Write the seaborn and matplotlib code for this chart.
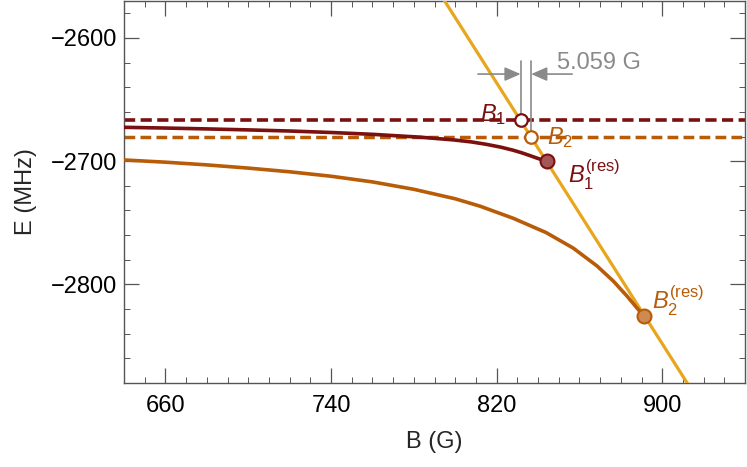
import numpy as np
import matplotlib
matplotlib.use('Agg')
import matplotlib.pyplot as plt
import seaborn as sns
from matplotlib.ticker import MultipleLocator

# Dữ liệu
B_red = [640, 660, 680, 700, 720, 740, 760, 783, 799, 808, 815, 822, 828, 832, 836, 840, 844.3]
E_red = [-2672.5, -2673.1, -2673.8, -2674.6, -2675.5, -2676.7, -2678.2, -2680.5,
         -2682.7, -2684.4, -2686.3, -2688.6, -2691.1, -2693.1, -2695.4, -2697.8, -2700.0]

B_orange = [640, 660, 680, 700, 720, 740, 760, 780, 800, 812, 828, 844, 857, 868.5,
            876.5, 883, 887, 891]
E_orange = [-2699.0, -2700.8, -2703.0, -2705.6, -2708.6, -2712.2, -2716.8, -2722.8,
            -2730.5, -2736.5, -2746.3, -2758.0, -2770.5, -2785.0, -2797.5, -2809.5,
            -2817.5, -2825.5]

B_line = [790, 920]
E_line = [-2557.0, -2901.0]

E_level1 = -2666.3
E_level2 = -2680.0

B_open = [831.6, 836.7]
E_open = [-2666.3, -2680.0]
B_res = [844.3, 891.0]
E_res = [-2700.0, -2825.5]

gap_text = '5.059 G'
E_arrow = -2629.3
E_top = -2619.0

x_ticks = [660, 740, 820, 900]

dark_red = '#7a1010'
orange = '#b85c08'
yellow = '#e8a61c'
gray = '#8a8a8a'

sns.set_theme(style='ticks')
plt.rcParams['font.family'] = ['Liberation Sans', 'DejaVu Sans']
plt.rcParams['mathtext.fontset'] = 'custom'
plt.rcParams['mathtext.rm'] = 'Liberation Sans'
plt.rcParams['mathtext.it'] = 'Liberation Sans:italic'

fig = plt.figure(figsize=(7.47, 4.67), dpi=100)
ax = fig.add_axes([124 / 747, 84 / 467, 621 / 747, 382 / 467])

# Đường ngang nét đứt
ax.axhline(E_level1, color=dark_red, lw=2.6, dashes=(3.1, 1.5), zorder=2)
ax.axhline(E_level2, color=orange, lw=2.5, dashes=(3.1, 1.5), zorder=2)

# Đường thẳng và các đường cong
sns.lineplot(x=B_line, y=E_line, ax=ax, color=yellow, lw=2.3, zorder=3, sort=False)
sns.lineplot(x=B_red, y=E_red, ax=ax, color=dark_red, lw=2.6, zorder=4, sort=False)
sns.lineplot(x=B_orange, y=E_orange, ax=ax, color=orange, lw=2.6, zorder=4, sort=False)

# Chú thích khoảng cách
ax.plot([B_open[0], B_open[0]], [E_top, E_open[0]], color=gray, lw=1.2, zorder=5)
ax.plot([B_open[1], B_open[1]], [E_top, E_open[1]], color=gray, lw=1.2, zorder=5)
ax.annotate('', xy=(B_open[0], E_arrow), xytext=(811, E_arrow),
            arrowprops=dict(arrowstyle='-|>,head_length=0.8,head_width=0.35',
                            color=gray, lw=1.2, shrinkA=0, shrinkB=0), zorder=5)
ax.annotate('', xy=(B_open[1], E_arrow), xytext=(856.5, E_arrow),
            arrowprops=dict(arrowstyle='-|>,head_length=0.8,head_width=0.35',
                            color=gray, lw=1.2, shrinkA=0, shrinkB=0), zorder=5)
ax.text(849.2, -2620, gap_text, color=gray, fontsize=17, ha='left', va='center')

# Điểm
ax.plot(B_open[0], E_open[0], 'o', ms=9, mfc='white', mec=dark_red, mew=1.6, zorder=6)
ax.plot(B_open[1], E_open[1], 'o', ms=9, mfc='white', mec=orange, mew=1.6, zorder=6)
ax.plot(B_res[0], E_res[0], 'o', ms=10, mfc='#a45656', mec=dark_red, mew=1.5, zorder=6)
ax.plot(B_res[1], E_res[1], 'o', ms=10, mfc='#cd8a52', mec=orange, mew=1.5, zorder=6)

ax.text(824.6, -2667.1, r'$B_1$', color=dark_red, fontsize=17, ha='right', va='baseline')
ax.text(844.3, -2685.9, r'$B_2$', color=orange, fontsize=17, ha='left', va='baseline')
ax.text(854.7, -2718.0, r'$B_1^{\mathrm{(res)}}$', color=dark_red, fontsize=17,
        ha='left', va='baseline')
ax.text(895.0, -2820.0, r'$B_2^{\mathrm{(res)}}$', color=orange, fontsize=17,
        ha='left', va='baseline')

ax.set_xlim(640, 940)
ax.set_ylim(-2880, -2570)
ax.set_xticks(x_ticks)
ax.xaxis.set_minor_locator(MultipleLocator(10))
ax.yaxis.set_major_locator(MultipleLocator(100))
ax.yaxis.set_minor_locator(MultipleLocator(20))

for s in ax.spines.values():
    s.set_visible(True)
    s.set_color('#555555')
    s.set_linewidth(1.0)

ax.tick_params(which='both', direction='in', top=True, right=True, color='#555555',
               labelsize=17, labelcolor='black')
ax.tick_params(which='major', length=11, width=0.9)
ax.tick_params(which='minor', length=4.5, width=0.7)
ax.tick_params(axis='x', which='major', pad=9)
ax.tick_params(axis='y', which='major', pad=5)

ax.set_xlabel('B (G)', fontsize=17, labelpad=10)
ax.set_ylabel('E (MHz)', fontsize=17, labelpad=10)

fig.savefig('out.png', dpi=100)
